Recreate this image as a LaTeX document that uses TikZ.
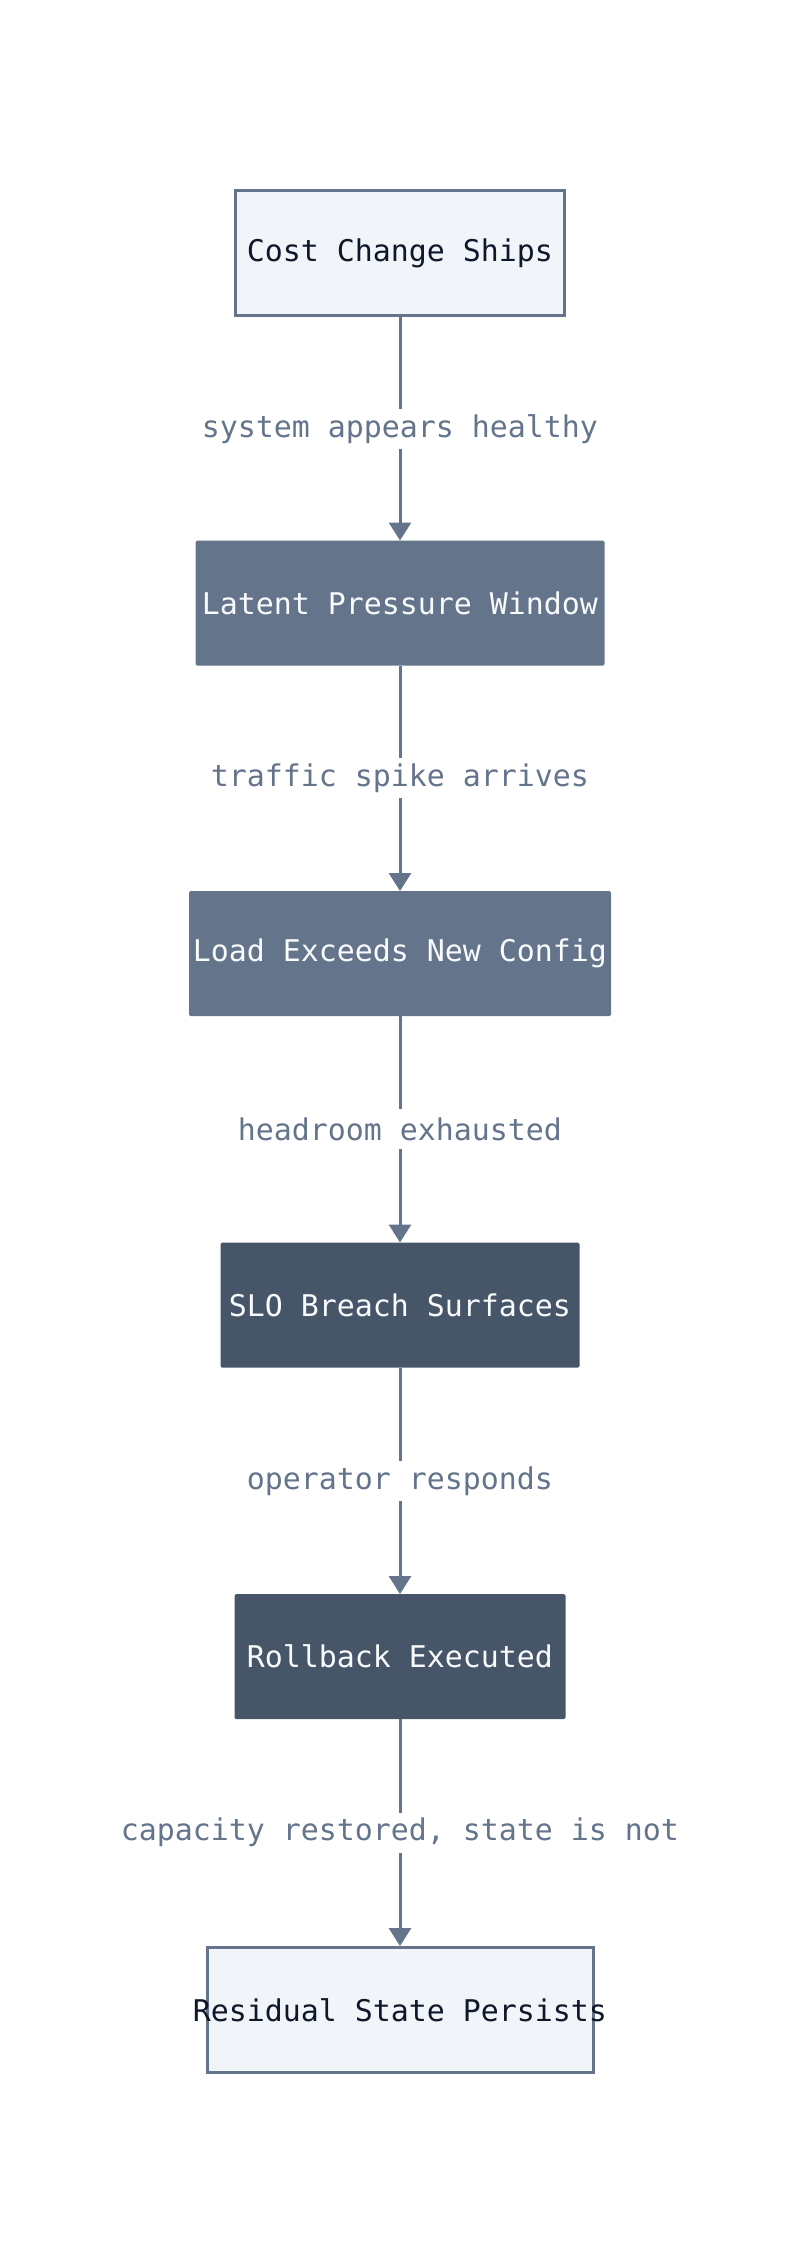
\documentclass[tikz,border=0pt]{standalone}
\usepackage{fontspec}
\setmonofont{DejaVu Sans Mono}
\usetikzlibrary{arrows.meta}
\definecolor{edgec}{HTML}{64748B}
\definecolor{lightfill}{HTML}{F1F5F9}
\definecolor{midfill}{HTML}{64748B}
\definecolor{darkfill}{HTML}{475569}
\definecolor{darktext}{HTML}{0F172A}
\definecolor{lighttext}{HTML}{F8FAFC}
\definecolor{labeltext}{HTML}{64748B}
\tikzset{
  box/.style={rectangle, minimum height=125pt, inner sep=0pt, font=\ttfamily\fontsize{29.9}{36}\selectfont, anchor=north},
  lightbox/.style={box, draw=edgec, line width=3pt, fill=lightfill, text=darktext},
  midbox/.style={box, fill=midfill, text=lighttext, rounded corners=1.5pt},
  darkbox/.style={box, fill=darkfill, text=lighttext, rounded corners=1.5pt},
  elabel/.style={fill=white, inner xsep=2pt, inner ysep=0pt, minimum height=40pt, text=labeltext, font=\ttfamily\fontsize{29.9}{36}\selectfont},
  flow/.style={draw=edgec, line width=3pt, -{Triangle[length=18pt, width=22pt]}}
}
\begin{document}
\begin{tikzpicture}[x=1pt, y=-1pt]
\useasboundingbox (0,0) rectangle (800,2259);
\node[lightbox, minimum width=329pt] (n1) at (400,189) {Cost Change Ships};
\node[midbox, minimum width=409pt] (n2) at (400,540.5) {Latent Pressure Window};
\node[midbox, minimum width=422pt] (n3) at (400,891) {Load Exceeds New Config};
\node[darkbox, minimum width=359pt] (n4) at (400,1242.5) {SLO Breach Surfaces};
\node[darkbox, minimum width=331pt] (n5) at (400,1594) {Rollback Executed};
\node[lightbox, minimum width=386pt] (n6) at (400,1946) {\makebox[0pt][c]{Residual State Persists}};
\draw[flow] (n1) -- node[elabel] {system appears healthy} (n2);
\draw[flow] (n2) -- node[elabel] {traffic spike arrives} (n3);
\draw[flow] (n3) -- node[elabel] {headroom exhausted} (n4);
\draw[flow] (n4) -- node[elabel] {operator responds} (n5);
\draw[flow] (n5) -- node[elabel] {capacity restored, state is not} (n6);
\end{tikzpicture}
\end{document}
